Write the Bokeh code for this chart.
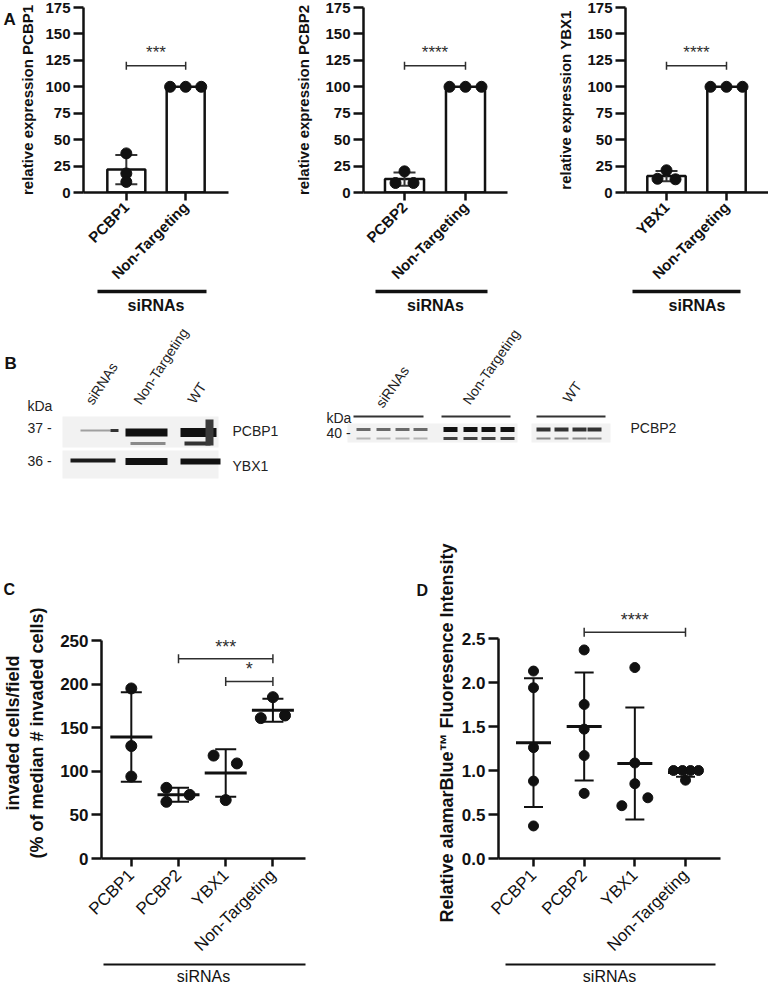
import numpy as np
from bokeh.plotting import figure
from bokeh.models import Range1d, FixedTicker, LinearAxis, NumeralTickFormatter
from bokeh.layouts import column, row
from bokeh.embed import file_html
from bokeh.resources import INLINE
from bokeh.core.properties import value

FONT = "Liberation Sans"
INK = "#111111"
BRK = "#2e2e2e"

# ---------------- data ----------------
# Panel A (qPCR, relative expression, %)
a_genes = ["PCBP1", "PCBP2", "YBX1"]
a_control = "Non-Targeting"
a_kd_values = [[37, 18, 10], [20, 9, 9], [21, 13, 12.5]]
a_nt_values = [[100, 100, 100], [100, 100, 100], [100, 100, 100]]
a_stars = ["***", "****", "****"]
a_bracket_y = [120, 120, 120]
a_yticks = [0, 25, 50, 75, 100, 125, 150, 175]

# Panel C (invasion)
c_groups = ["PCBP1", "PCBP2", "YBX1", "Non-Targeting"]
c_pcbp1 = [195, 129, 94]
c_pcbp2 = [81, 65, 73]
c_ybx1 = [118, 109, 67]
c_nt = [185, 161, 164]
c_yticks = [0, 50, 100, 150, 200, 250]
c_brackets = [(2, 4, 229, "***"), (3, 4, 203, "*")]

# Panel D (alamarBlue)
d_groups = ["PCBP1", "PCBP2", "YBX1", "Non-Targeting"]
d_pcbp1 = [2.13, 1.94, 1.26, 0.88, 0.37]
d_pcbp2 = [2.37, 1.75, 1.47, 1.17, 0.74]
d_ybx1 = [2.17, 1.085, 0.85, 0.60, 0.69]
d_nt = [1.0, 1.0, 1.0, 1.0, 0.89]
d_yticks = [0, 0.5, 1.0, 1.5, 2.0, 2.5]
d_brackets = [(2, 4, 2.57, "****")]

# Panel B (western blot labels)
b_lanes = ["siRNAs", "Non-Targeting", "WT"]
b_left_markers = ["kDa", "37 -", "36 -"]
b_left_proteins = ["PCBP1", "YBX1"]
b_right_markers = ["kDa", "40 -"]
b_right_protein = "PCBP2"

# ---------------- layout (page pixels, px offsets) ----------------
a_spread_kd = [[0, 0, 0], [0, -9, 9], [0, -9, 9]]
a_spread_nt = [-16, 0, 16]
c_spread = [[0, 0, 0], [-13, -13, 12], [-13, 12, 0], [0, -13, 13]]
d_spread = [[0, 0, 0, 0, 0], [0, 0, 0, 0, 0], [0, 0, 0, -13, 13], [-12, -3, 5, 13, 0]]

# fig x, width, L, R, first-category x, spacing, underline x0, x1, y-title standoff
A_GEOM = [(16, 244, 63, 32, 123, 61, 93, 205, 6),
          (260, 250, 103, 3, 404, 61, 375, 487, 10),
          (510, 258, 115, 0, 666, 60, 632, 740, 10)]
A_T, A_FH, A_H = 7, 185, 320
# C and D share top/bottom borders (Bokeh aligns frames in a row)
CD_T, CD_FH, CD_H = 117, 251, 498


def make_fig(w, h, L, R, T, B, xr, yr):
    p = figure(width=w, height=h, x_range=Range1d(*xr), y_range=Range1d(*yr),
               min_border_left=L, min_border_right=R, min_border_top=T, min_border_bottom=B,
               output_backend="svg", toolbar_location=None, tools="")
    p.outline_line_color = None
    p.xgrid.visible = False
    p.ygrid.visible = False
    return p


def blank_fig(x0, y0, w, h):
    """Axis-less strip whose data coordinates are page pixels."""
    p = figure(width=w, height=h, x_range=Range1d(x0, x0 + w), y_range=Range1d(y0 + h, y0),
               min_border=0, output_backend="svg", toolbar_location=None, tools="",
               x_axis_location=None, y_axis_location=None)
    p.outline_line_color = None
    p.xgrid.visible = False
    p.ygrid.visible = False
    return p


def put_text(p, x, y, t, size, style="bold", align="left", baseline="top", color=INK):
    p.text([x], [y], text=[t], text_align=align, text_baseline=baseline,
           text_font=value(FONT), text_font_style=style, text_font_size=size, text_color=color)


def style_y(ax, ticks, bounds, lab, tick_size, lab_size, lab_standoff=10):
    ax.ticker = FixedTicker(ticks=ticks)
    ax.bounds = bounds
    ax.axis_line_width = 2.5
    ax.axis_line_color = INK
    ax.major_tick_line_width = 2.5
    ax.major_tick_line_color = INK
    ax.major_tick_out = 10
    ax.major_tick_in = 0
    ax.minor_tick_line_color = None
    ax.major_label_text_font = FONT
    ax.major_label_text_font_style = "bold"
    ax.major_label_text_font_size = tick_size
    ax.major_label_text_color = INK
    ax.major_label_standoff = 3
    ax.axis_label = lab
    ax.axis_label_text_font = FONT
    ax.axis_label_text_font_style = "bold"
    ax.axis_label_text_font_size = lab_size
    ax.axis_label_text_color = INK
    ax.axis_label_standoff = lab_standoff


def style_x(ax, labels, size, bold, standoff):
    ticks = list(range(1, len(labels) + 1))
    ax.ticker = FixedTicker(ticks=ticks)
    ax.major_label_overrides = {t: l for t, l in zip(ticks, labels)}
    ax.major_label_orientation = np.pi / 4
    ax.axis_line_width = 2.5
    ax.axis_line_color = INK
    ax.major_tick_line_width = 2.5
    ax.major_tick_line_color = INK
    ax.major_tick_out = 8
    ax.major_tick_in = 0
    ax.minor_tick_line_color = None
    ax.major_label_text_font = FONT
    ax.major_label_text_font_style = "bold" if bold else "normal"
    ax.major_label_text_font_size = size
    ax.major_label_text_color = INK
    ax.major_label_standoff = standoff


def add_underline(p, bounds, width, size, bold, standoff):
    ax = LinearAxis(bounds=bounds, ticker=FixedTicker(ticks=[]))
    ax.axis_line_width = width
    ax.axis_line_color = INK
    ax.major_tick_out = 0
    ax.major_tick_in = 0
    ax.minor_tick_line_color = None
    ax.major_tick_line_color = None
    ax.major_label_standoff = 0
    ax.axis_label = "siRNAs"
    ax.axis_label_text_font = FONT
    ax.axis_label_text_font_style = "bold" if bold else "normal"
    ax.axis_label_text_font_size = size
    ax.axis_label_text_color = INK
    ax.axis_label_standoff = standoff
    p.add_layout(ax, "below")


def bracket(p, x0, x1, y, stars, cap_px, size, gap):
    p.segment([x0], [y], [x1], [y], line_color=BRK, line_width=1.5)
    p.rect([x0, x1], [y, y], width=1.5, height=cap_px, width_units="screen",
           height_units="screen", fill_color=BRK, line_color=None)
    p.text([(x0 + x1) / 2], [y], text=[stars], text_align="center", text_baseline="bottom",
           y_offset=-gap, text_font=value(FONT), text_font_size=size, text_color=BRK)


def panel_letter(p, txt, offset, standoff):
    p.title.text = txt
    p.title.align = "left"
    p.title.offset = offset
    p.title.standoff = standoff
    p.title.text_font = FONT
    p.title.text_font_style = "bold"
    p.title.text_font_size = "16px"
    p.title.text_color = INK


# ---------------- Panel A ----------------
sa = blank_fig(0, 0, 16, A_H)
put_text(sa, 3, 5, "A", "17px")
row_a = [sa]
for i, (fx, w, L, R, catx, sp, ux0, ux1, lso) in enumerate(A_GEOM):
    F = w - L - R
    xmin = 1 - (catx - (fx + L)) / sp
    xr = (xmin, xmin + F / sp)
    p = make_fig(w, A_H, L, R, A_T, A_H - A_T - A_FH, xr, (0, 175))
    kd = np.array(a_kd_values[i], float)
    nt = np.array(a_nt_values[i], float)
    means = np.array([kd.mean(), nt.mean()])
    sds = np.array([kd.std(ddof=1), nt.std(ddof=1)])
    p.vbar(x=[1, 2], top=means, bottom=0, width=0.64, fill_color="white",
           line_color=INK, line_width=2.5)
    has = sds > 0
    gx = np.array([1, 2])[has]
    lo = (means - sds)[has]
    hi = (means + sds)[has]
    p.segment(gx, lo, gx, hi, line_color="#333333", line_width=2)
    p.rect(np.concatenate([gx, gx]), np.concatenate([lo, hi]), width=22, height=2,
           width_units="screen", height_units="screen", fill_color="#333333", line_color=None)
    xs = [1 + o / sp for o in a_spread_kd[i]] + [2 + o / sp for o in a_spread_nt]
    ys = list(kd) + list(nt)
    p.scatter(xs, ys, size=11, fill_color=INK, line_color=INK)
    bracket(p, 1, 2, a_bracket_y[i], a_stars[i], 8, "17px", 4)
    style_y(p.yaxis[0], a_yticks, (0, 175), f"relative expression {a_genes[i]}",
            "15px", "15px", lso)
    style_x(p.xaxis[0], [a_genes[i], a_control], "15px", True, 4)
    add_underline(p, (1 + (ux0 - catx) / sp, 1 + (ux1 - catx) / sp), 3.5, "16px", True, 5)
    row_a.append(p)

# ---------------- Panel B (blots) ----------------
pb = blank_fig(0, 320, 768, 170)

# blot backgrounds: left, right, top, bottom
bg = [(62, 218, 416, 447), (62, 218, 450, 478), (347, 517, 423, 442), (531, 610, 423, 442)]
pb.quad(left=[b[0] for b in bg], right=[b[1] for b in bg], top=[b[2] for b in bg],
        bottom=[b[3] for b in bg], fill_color="#f2f2f2", line_color=None)
# bands: x0, x1, y-centre, thickness, colour
bands = [(80, 110, 430, 2, "#a0a0a0"), (110, 118, 430, 3, "#333333"),
         (125, 167, 432, 8, "#111111"), (130, 165, 443, 3, "#8a8a8a"),
         (180, 216, 432, 9, "#111111"), (184, 210, 443, 4, "#333333"),
         (205, 213, 432, 26, "#3a3a3a"),
         (70, 115, 460, 4, "#1a1a1a"), (125, 167, 461, 7, "#111111"), (180, 220, 461, 6, "#111111")]
for lanes, top_c, top_h, low_c, low_h in [([363, 383, 402, 420], "#6a6a6a", 3, "#b5b5b5", 2),
                                          ([450, 470, 488, 507], "#111111", 5, "#444444", 3),
                                          ([543, 561, 579, 594], "#333333", 4, "#8a8a8a", 2)]:
    for cx in lanes:
        bands.append((cx - 7, cx + 7, 429, top_h, top_c))
        bands.append((cx - 7, cx + 7, 438, low_h, low_c))
pb.quad(left=[b[0] for b in bands], right=[b[1] for b in bands],
        top=[b[2] - b[3] / 2 for b in bands], bottom=[b[2] + b[3] / 2 for b in bands],
        fill_color=[b[4] for b in bands], line_color=None)
# lane bars on right blot
pb.segment([353, 441, 536], [416] * 3, [423, 510, 605], [416] * 3, line_color="#333333", line_width=2)

txt_kw = dict(text_font=value(FONT), text_font_size="14px", text_color="#222222")
pb.text([95, 143, 197], [407, 407, 406], text=b_lanes, angle=np.deg2rad(57),
        text_align="left", text_baseline="bottom", **txt_kw)
pb.text([385, 472, 572], [410, 407, 405], text=b_lanes, angle=np.deg2rad(55),
        text_align="left", text_baseline="bottom", **txt_kw)
pb.text([27, 27, 27], [405, 427, 460], text=b_left_markers, text_align="left",
        text_baseline="middle", **txt_kw)
pb.text([232, 232], [430, 465], text=b_left_proteins, text_align="left",
        text_baseline="middle", **txt_kw)
pb.text([326, 326], [417, 432], text=b_right_markers, text_align="left",
        text_baseline="middle", **txt_kw)
pb.text([630], [427], text=[b_right_protein], text_align="left",
        text_baseline="middle", **txt_kw)
put_text(pb, 4, 363, "B", "17px", baseline="middle")


# ---------------- Panels C & D ----------------
def dot_panel(fx, w, L, R, catx, sp, ytop, ybounds, groups, vals, spreads, yticks,
              ylab, brackets, ux, dot, mean_w, cap_w, lab_standoff, fmt=None):
    F = w - L - R
    xmin = 1 - (catx - (fx + L)) / sp
    xr = (xmin, xmin + F / sp)
    p = make_fig(w, CD_H, L, R, CD_T, CD_H - CD_T - CD_FH, xr, (0, ytop))
    means = np.array([np.mean(v) for v in vals])
    sds = np.array([np.std(v, ddof=1) for v in vals])
    gx = np.arange(1, len(vals) + 1)
    xs, ys = [], []
    for g, (vv, ss) in enumerate(zip(vals, spreads)):
        for v, o in zip(vv, ss):
            xs.append(g + 1 + o / sp)
            ys.append(v)
    p.scatter(xs, ys, size=dot, fill_color=INK, line_color=INK)
    p.segment(gx, means - sds, gx, means + sds, line_color=INK, line_width=2)
    p.rect(np.concatenate([gx, gx]), np.concatenate([means - sds, means + sds]), width=cap_w,
           height=2, width_units="screen", height_units="screen", fill_color=INK, line_color=None)
    p.rect(gx, means, width=mean_w, height=3, width_units="screen", height_units="screen",
           fill_color=INK, line_color=None)
    for (x0, x1, y, s) in brackets:
        bracket(p, x0, x1, y, s, 9, "18px", 2)
    style_y(p.yaxis[0], yticks, ybounds, ylab, "17px", "18px", lab_standoff)
    if fmt:
        p.yaxis[0].formatter = NumeralTickFormatter(format=fmt)
    style_x(p.xaxis[0], groups, "17px", False, 6)
    add_underline(p, (1 + (ux[0] - catx) / sp, 1 + (ux[1] - catx) / sp), 2, "16px", False, 3)
    return p


# axis top value chosen so that the 0..250 / 0..2.5 spans sit where the reference has them
pc = dot_panel(0, 390, 86, 85, 118, 50.67, 250 * CD_FH / 218, (0, 250), c_groups,
               [c_pcbp1, c_pcbp2, c_ybx1, c_nt], c_spread, c_yticks,
               "invaded cells/field\n(% of median # invaded cells)", c_brackets,
               (88, 306), 11, 42, 21, 10)
panel_letter(pc, "C", -98, 19)

pd_ = dot_panel(390, 378, 108, 48, 533, 50.67, 2.5 * CD_FH / 220, (0, 2.5),
                d_groups, [d_pcbp1, d_pcbp2, d_ybx1, d_nt], d_spread, d_yticks,
                "Relative alamarBlue\u2122 Fluoresence Intensity", d_brackets,
                (505, 715), 10, 35, 19, 2, fmt="0.0")
panel_letter(pd_, "D", -82, 17)

layout = column(row(*row_a), pb, row(pc, pd_))
open("out.html", "w").write(file_html(layout, INLINE))
